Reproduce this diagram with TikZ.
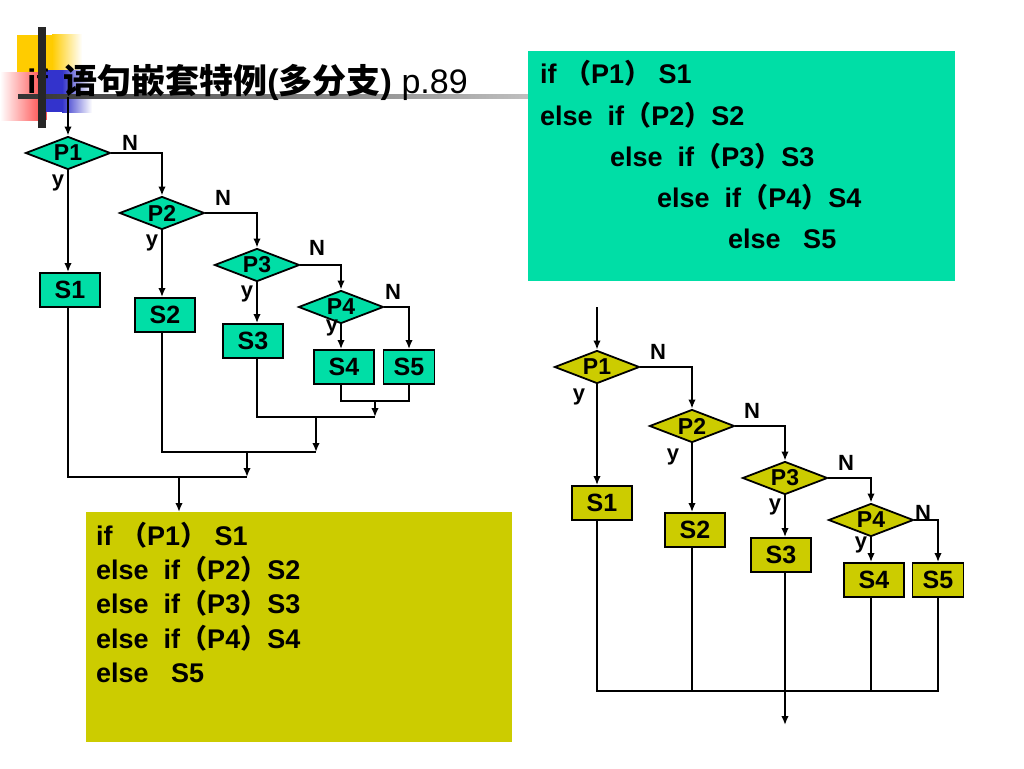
\documentclass[tikz,border=0pt]{standalone}
\usepackage{fontspec}
\setmainfont{Liberation Sans}
\newfontfamily\cjk{Noto Sans CJK SC}
\usetikzlibrary{arrows.meta, shapes.geometric}
\definecolor{mint}{RGB}{0,222,166}
\definecolor{codeyellow}{RGB}{204,204,0}
\definecolor{gold}{RGB}{255,204,0}
\definecolor{titleblue}{RGB}{51,51,204}
\newcommand{\fwl}{{\cjk （}}
\newcommand{\fwr}{{\cjk ）}}
\tikzset{
    test/.style={diamond,draw,line width=1.8pt,aspect=2.6,inner sep=0pt,minimum width=85pt,minimum height=33pt,font=\fontsize{23}{26}\selectfont\bfseries},
    stmt/.style={rectangle,draw,line width=1.8pt,inner sep=0pt,minimum width=60pt,minimum height=34pt,font=\fontsize{25}{28}\selectfont\bfseries},
    dedge/.style={->,> = {Latex[length=9pt,width=7.5pt]}, line width=1.8pt, draw=black},
    edge/.style={-, line width=1.8pt, draw=black},
    yn/.style={inner sep=0pt,font=\fontsize{22}{24}\selectfont\bfseries},
    codeline/.style={anchor=base west,inner sep=0pt,font=\fontsize{27}{30}\selectfont\bfseries},
    codebox/.style={anchor=north west,inner sep=0pt,minimum width=427pt,minimum height=230pt},
}

\begin{document}
\begin{tikzpicture}[x=1pt,y=-1pt]
    \useasboundingbox (0,0) rectangle (1024,768);
    % title
    \fill[gold] (17,35) rectangle (52,72);
    \shade[left color=gold,right color=white] (52,35) rectangle (82,72);
    \shade[left color=white,right color=red!65] (0,72) rectangle (40,120);
    \fill[red!65] (40,72) rectangle (47,120);
    \fill[titleblue] (46,70) rectangle (62,112);
    \shade[left color=titleblue,right color=white] (62,70) rectangle (92,112);
    \shade[left color=black!80,right color=black!25] (18,94) rectangle (528,98);
    \node[anchor=base west,inner sep=0pt,font=\fontsize{34}{40}\selectfont] (title) at (27,93)
        {{\bfseries if\hspace{6pt} {\cjk 语句嵌套特例}({\cjk 多分支})} p.89};
    \fill[black!85] (38,27) rectangle (46,128);

    % code boxes
    \node[codebox,fill=mint] (code1) at (528,51) {};
    \node[codeline] (c1a) at (540,83) {if \fwl P1\fwr\ S1};
    \node[codeline] (c1b) at (540,125) {else\ \ if\fwl P2\fwr S2};
    \node[codeline] (c1c) at (610,166) {else\ \ if\fwl P3\fwr S3};
    \node[codeline] (c1d) at (657,207) {else\ \ if\fwl P4\fwr S4};
    \node[codeline] (c1e) at (728,248) {else\ \ \ S5};
    \node[codebox,fill=codeyellow,minimum width=426pt] (code2) at (86,512) {};
    \node[codeline] (c2a) at (96,545) {if \fwl P1\fwr\ S1};
    \node[codeline] (c2b) at (96,579) {else\ \ if\fwl P2\fwr S2};
    \node[codeline] (c2c) at (96,613) {else\ \ if\fwl P3\fwr S3};
    \node[codeline] (c2d) at (96,648) {else\ \ if\fwl P4\fwr S4};
    \node[codeline] (c2e) at (96,682) {else\ \ \ S5};

    % left chart
    \node[test,fill=mint] (lp1) at (68,153) {P1};
    \node[test,fill=mint] (lp2) at (162,213) {P2};
    \node[test,fill=mint] (lp3) at (257,265) {P3};
    \node[test,fill=mint] (lp4) at (341,307) {P4};
    \node[stmt,fill=mint] (ls1) at (70,290) {S1};
    \node[stmt,fill=mint] (ls2) at (165,315) {S2};
    \node[stmt,fill=mint] (ls3) at (253,341) {S3};
    \node[stmt,fill=mint] (ls4) at (344,367) {S4};
    \node[stmt,fill=mint,minimum width=51pt] (ls5) at (409,367) {S5};
    \node[yn] (ln1) at (130,143) {N};
    \node[yn] (ly1) at (58,183) {y};
    \node[yn] (ln2) at (223,198) {N};
    \node[yn] (ly2) at (152,243) {y};
    \node[yn] (ln3) at (317,248) {N};
    \node[yn] (ly3) at (247,294) {y};
    \node[yn] (ln4) at (393,292) {N};
    \node[yn] (ly4) at (332,328) {y};
    \coordinate (lin) at (68,97);
    \coordinate (lj4) at (375,401);
    \coordinate (lj3) at (375,417);
    \coordinate (lj2) at (316,452);
    \coordinate (lj1) at (247,477);
    \coordinate (lout) at (179,512);
    \draw[dedge] (lin) -- (lp1);
    \draw[dedge] (lp1) -- (lp1 |- ls1.north);
    \draw[dedge] (lp1.east) -| (lp2);
    \draw[dedge] (lp2) -- (lp2 |- ls2.north);
    \draw[dedge] (lp2.east) -| (lp3);
    \draw[dedge] (lp3) -- (lp3 |- ls3.north);
    \draw[dedge] (lp3.east) -| (lp4);
    \draw[dedge] (lp4) -- (lp4 |- ls4.north);
    \draw[dedge] (lp4.east) -| (ls5);
    \draw[edge] (lp4 |- ls4.south) |- (lj4) -| (ls5);
    \draw[dedge] (lj4) -- (lj3);
    \draw[edge] (lp3 |- ls3.south) |- (lj3);
    \draw[dedge] (lj2 |- lj3) -- (lj2);
    \draw[edge] (lp2 |- ls2.south) |- (lj2);
    \draw[dedge] (lj1 |- lj2) -- (lj1);
    \draw[edge] (lp1 |- ls1.south) |- (lj1);
    \draw[dedge] (lout |- lj1) -- (lout);

    % right chart
    \node[test,fill=codeyellow] (rp1) at (597,367) {P1};
    \node[test,fill=codeyellow] (rp2) at (692,426) {P2};
    \node[test,fill=codeyellow] (rp3) at (785,478) {P3};
    \node[test,fill=codeyellow] (rp4) at (871,520) {P4};
    \node[stmt,fill=codeyellow] (rs1) at (602,503) {S1};
    \node[stmt,fill=codeyellow] (rs2) at (695,530) {S2};
    \node[stmt,fill=codeyellow] (rs3) at (781,555) {S3};
    \node[stmt,fill=codeyellow] (rs4) at (874,580) {S4};
    \node[stmt,fill=codeyellow,minimum width=51pt] (rs5) at (938,580) {S5};
    \node[yn] (rn1) at (658,352) {N};
    \node[yn] (ry1) at (579,397) {y};
    \node[yn] (rn2) at (752,411) {N};
    \node[yn] (ry2) at (673,457) {y};
    \node[yn] (rn3) at (846,463) {N};
    \node[yn] (ry3) at (775,507) {y};
    \node[yn] (rn4) at (923,513) {N};
    \node[yn] (ry4) at (861,545) {y};
    \coordinate (rin) at (597,307);
    \coordinate (rj) at (785,691);
    \coordinate (rout) at (785,725);
    \draw[dedge] (rin) -- (rp1);
    \draw[dedge] (rp1) -- (rp1 |- rs1.north);
    \draw[dedge] (rp1.east) -| (rp2);
    \draw[dedge] (rp2) -- (rp2 |- rs2.north);
    \draw[dedge] (rp2.east) -| (rp3);
    \draw[dedge] (rp3) -- (rp3 |- rs3.north);
    \draw[dedge] (rp3.east) -| (rp4);
    \draw[dedge] (rp4) -- (rp4 |- rs4.north);
    \draw[dedge] (rp4.east) -| (rs5);
    \draw[edge] (rp1 |- rs1.south) |- (rs5 |- rj) -- (rs5);
    \draw[edge] (rp2 |- rs2.south) -- (rp2 |- rj);
    \draw[edge] (rp3 |- rs3.south) -- (rj);
    \draw[edge] (rp4 |- rs4.south) -- (rp4 |- rj);
    \draw[dedge] (rj) -- (rout);
\end{tikzpicture}
\end{document}
